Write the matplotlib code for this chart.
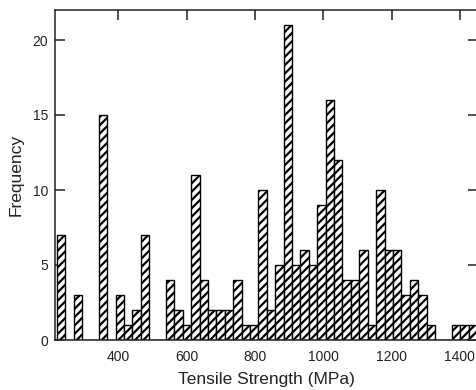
import numpy as np
import matplotlib
matplotlib.use("Agg")
import matplotlib.pyplot as plt

# Histogram of tensile strength, 50 bins between 220 and 1450 MPa
bin_start = 220
bin_stop = 1450
counts = [7, 0, 3, 0, 0, 15, 0, 3, 1, 2,
          7, 0, 0, 4, 2, 1, 11, 4, 2, 2,
          2, 4, 1, 1, 10, 2, 5, 21, 5, 6,
          5, 9, 16, 12, 4, 4, 6, 1, 10, 6,
          6, 3, 4, 3, 1, 0, 0, 1, 1, 1]
x_ticks = [400, 600, 800, 1000, 1200, 1400]
y_ticks = [0, 5, 10, 15, 20]

plt.rcParams["font.family"] = ["Liberation Sans", "DejaVu Sans"]
plt.rcParams["hatch.linewidth"] = 1.6

edges = np.linspace(bin_start, bin_stop, len(counts) + 1)

fig = plt.figure(figsize=(4.77, 3.90), dpi=100)
ax = fig.add_axes([55 / 477, 50 / 390, 423 / 477, 330 / 390])

ax.bar(edges[:-1], counts, width=np.diff(edges), align="edge",
       facecolor="white", edgecolor="black", linewidth=1.0, hatch="////")

ax.set_xlim(215, 1453)
ax.set_ylim(0, 22)
ax.set_xticks(x_ticks)
ax.set_yticks(y_ticks)
ax.set_axisbelow(True)

# inward ticks on all four sides, labels only bottom/left
ax.tick_params(direction="in", length=7.5, width=1.1, top=True, right=True,
               labelsize=10, colors="#222222")
ax.tick_params(axis="x", pad=7)
ax.tick_params(axis="y", pad=5)
for s in ax.spines.values():
    s.set_linewidth(1.1)
    s.set_color("#222222")

ax.set_xlabel("Tensile Strength (MPa)", fontsize=12.5, color="#222222", labelpad=6)
ax.set_ylabel("Frequency", fontsize=12.5, color="#222222", labelpad=6)

fig.savefig("out.png", dpi=100)
plt.close(fig)
